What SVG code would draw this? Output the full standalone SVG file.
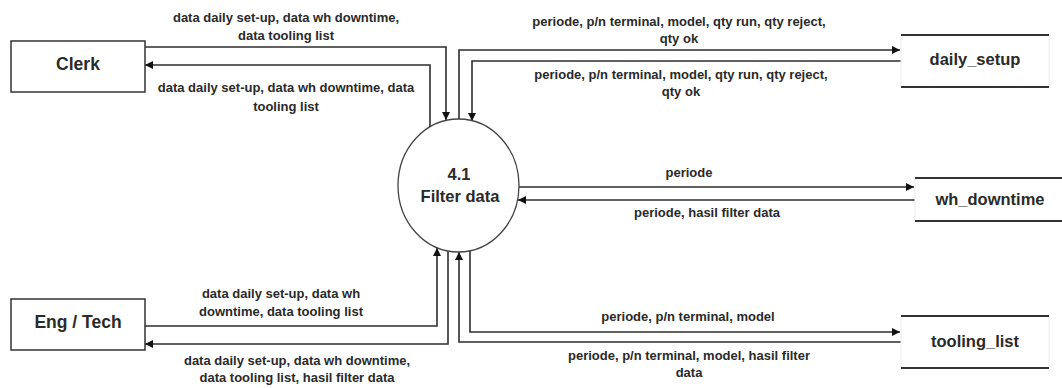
<svg xmlns="http://www.w3.org/2000/svg" width="1062" height="388" viewBox="0 0 1062 388">
  <style>
    text { font-family: "Liberation Sans", Arial, sans-serif; font-weight: bold; fill: #2a2a2a; text-anchor: middle; dominant-baseline: central; }
    .lbl { font-size: 13px; }
    .ent { font-size: 17.5px; }
    .st { font-size: 16.5px; }
    .box { fill: #ffffff; stroke: #333333; stroke-width: 1.5; }
    .store-frame { fill: #ffffff; stroke: #ececec; stroke-width: 1; }
    .store-line { stroke: #333333; stroke-width: 1.8; }
    .flow { fill: none; stroke: #2e2e2e; stroke-width: 1.6; }
  </style>
  <defs>
    <marker id="arrow" viewBox="0 0 10 10" refX="10" refY="5" markerWidth="10" markerHeight="8" markerUnits="userSpaceOnUse" orient="auto">
      <path d="M0,0 L10,5 L0,10 z" fill="#111111"/>
    </marker>
  </defs>
  <rect width="1062" height="388" fill="#ffffff"/>

  <!-- data flows -->
  <g id="connectors">
    <!-- Clerk <-> process -->
    <path class="flow" d="M145,47 H446 V120" marker-end="url(#arrow)"/>
    <path class="flow" d="M430,127 V65 H145" marker-end="url(#arrow)"/>
    <!-- process <-> daily_setup -->
    <path class="flow" d="M459,119 V50 H900" marker-end="url(#arrow)"/>
    <path class="flow" d="M901,61 H472 V121" marker-end="url(#arrow)"/>
    <!-- process <-> wh_downtime -->
    <path class="flow" d="M519,187 H914" marker-end="url(#arrow)"/>
    <path class="flow" d="M915,200 H518" marker-end="url(#arrow)"/>
    <!-- process <-> tooling_list -->
    <path class="flow" d="M470,251 V332 H900" marker-end="url(#arrow)"/>
    <path class="flow" d="M901,342 H459 V252" marker-end="url(#arrow)"/>
    <!-- Eng / Tech <-> process -->
    <path class="flow" d="M145,326 H437 V248" marker-end="url(#arrow)"/>
    <path class="flow" d="M448,251 V344 H145" marker-end="url(#arrow)"/>

    <!-- flow labels -->
    <text class="lbl" x="286" y="17">data daily set-up, data wh downtime,</text>
    <text class="lbl" x="286" y="35">data tooling list</text>
    <text class="lbl" x="286" y="87">data daily set-up, data wh downtime, data</text>
    <text class="lbl" x="286" y="106">tooling list</text>

    <text class="lbl" x="679" y="21">periode, p/n terminal, model, qty run, qty reject,</text>
    <text class="lbl" x="679" y="38">qty ok</text>
    <text class="lbl" x="681" y="74">periode, p/n terminal, model, qty run, qty reject,</text>
    <text class="lbl" x="681" y="91">qty ok</text>

    <text class="lbl" x="689" y="172">periode</text>
    <text class="lbl" x="707" y="212">periode, hasil filter data</text>

    <text class="lbl" x="688" y="316">periode, p/n terminal, model</text>
    <text class="lbl" x="689" y="355">periode, p/n terminal, model, hasil filter</text>
    <text class="lbl" x="689" y="372">data</text>

    <text class="lbl" x="281" y="293">data daily set-up, data wh</text>
    <text class="lbl" x="281" y="311">downtime, data tooling list</text>
    <text class="lbl" x="297" y="360">data daily set-up, data wh downtime,</text>
    <text class="lbl" x="297" y="377">data tooling list, hasil filter data</text>
  </g>

  <!-- external entities -->
  <g id="clerk">
    <rect class="box" x="11" y="41" width="134" height="51"/>
    <text class="ent" x="78" y="64">Clerk</text>
  </g>
  <g id="eng-tech">
    <rect class="box" x="11" y="299" width="134" height="51"/>
    <text class="ent" x="78" y="322">Eng / Tech</text>
  </g>

  <!-- process -->
  <g id="filter-data">
    <ellipse cx="458.5" cy="185.5" rx="60.5" ry="66.5" fill="#ffffff" stroke="#444444" stroke-width="1.3"/>
    <text class="st" x="459" y="174">4.1</text>
    <text class="st" x="460" y="196">Filter data</text>
  </g>

  <!-- data stores -->
  <g id="daily-setup">
    <rect class="store-frame" x="901" y="35" width="148" height="52"/>
    <line class="store-line" x1="901" y1="35" x2="1049" y2="35"/>
    <line class="store-line" x1="901" y1="87" x2="1049" y2="87"/>
    <text class="st" x="975" y="59">daily_setup</text>
  </g>
  <g id="wh-downtime">
    <rect class="store-frame" x="915" y="178" width="160" height="43"/>
    <line class="store-line" x1="915" y1="178" x2="1062" y2="178"/>
    <line class="store-line" x1="915" y1="221" x2="1062" y2="221"/>
    <text class="st" x="990" y="199">wh_downtime</text>
  </g>
  <g id="tooling-list">
    <rect class="store-frame" x="901" y="316" width="148" height="52"/>
    <line class="store-line" x1="901" y1="316" x2="1049" y2="316"/>
    <line class="store-line" x1="901" y1="368" x2="1049" y2="368"/>
    <text class="st" x="975" y="341">tooling_list</text>
  </g>
</svg>
